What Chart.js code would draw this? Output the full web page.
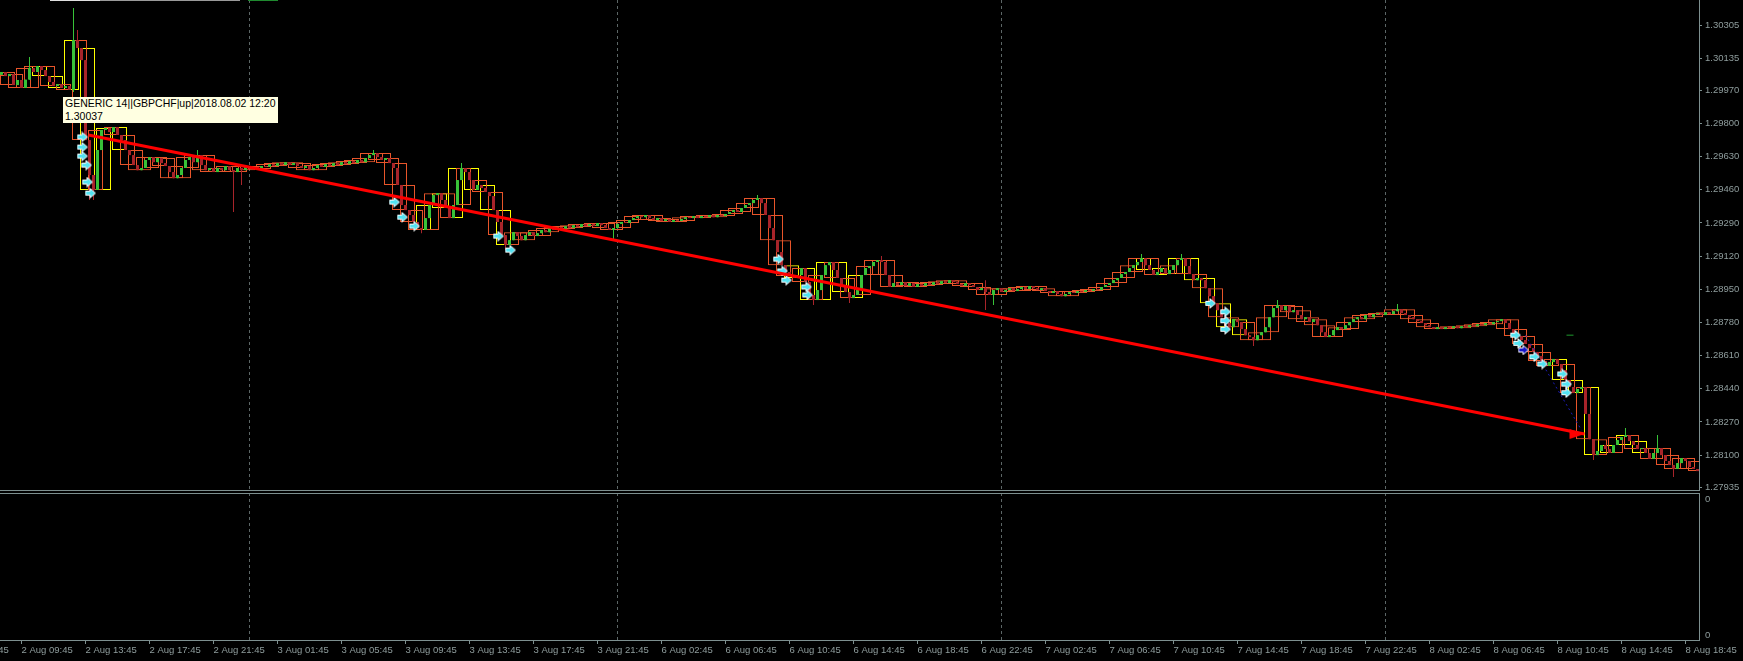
<!DOCTYPE html>
<html><head><meta charset="utf-8">
<script src="https://cdn.jsdelivr.net/npm/chart.js@4.4.1/dist/chart.umd.min.js"></script>
<style>
html,body{margin:0;padding:0;background:#000;width:1743px;height:661px;overflow:hidden;}
#main{position:absolute;left:0;top:0;width:1743px;height:492px;}
#sub{position:absolute;left:0;top:491px;width:1743px;height:170px;}
#tip{position:absolute;left:63px;top:97px;width:215px;height:26px;background:#ffffe1;color:#000;font:10.5px 'Liberation Sans',Arial,sans-serif;line-height:13px;padding:0 0 0 2px;box-sizing:border-box;white-space:nowrap;}
.strip{position:absolute;top:0;height:1px;}
</style></head><body>
<canvas id="main" width="1743" height="492"></canvas>
<canvas id="sub" width="1743" height="170"></canvas>
<div class="strip" style="left:50px;width:50px;background:#e0e0e0"></div>
<div class="strip" style="left:100px;width:140px;background:#9a9a9a"></div>
<div class="strip" style="left:248px;width:30px;background:#1f8a2f"></div>
<div id="tip">GENERIC 14||GBPCHF|up|2018.08.02 12:20<br>1.30037</div>
<script>
// ---------------- data (GBPCHF, M15) ----------------
const firstOpen = 1.30050;
const closes = [
1.30064,1.30043,1.30054,1.29997,1.30023,1.29982,1.30025,1.30084,1.30064,1.30095,
1.30074,1.30043,1.30013,1.29992,1.30002,1.29982,1.29992,1.29972,1.30228,1.30187,
1.30125,1.29715,1.29536,1.29459,1.29664,1.29767,1.29777,1.29756,1.29782,1.29741,
1.29715,1.29664,1.29638,1.29587,1.29561,1.29572,1.29613,1.29628,1.29602,1.29623,
1.29597,1.29582,1.29551,1.29520,1.29536,1.29572,1.29613,1.29628,1.29602,1.29638,
1.29587,1.29561,1.29572,1.29551,1.29572,1.29561,1.29582,1.29561,1.29551,1.29572,
1.29561,1.29582,1.29572,1.29577,1.29567,1.29582,1.29577,1.29592,1.29582,1.29597,
1.29587,1.29602,1.29587,1.29597,1.29582,1.29572,1.29582,1.29561,1.29572,1.29587,
1.29577,1.29592,1.29582,1.29597,1.29587,1.29602,1.29592,1.29608,1.29597,1.29613,
1.29602,1.29623,1.29638,1.29649,1.29628,1.29613,1.29623,1.29597,1.29572,1.29485,
1.29382,1.29356,1.29331,1.29295,1.29264,1.29254,1.29315,1.29382,1.29433,1.29443,
1.29408,1.29367,1.29315,1.29382,1.29510,1.29572,1.29551,1.29510,1.29459,1.29485,
1.29469,1.29449,1.29428,1.29356,1.29295,1.29228,1.29177,1.29202,1.29243,1.29223,
1.29202,1.29228,1.29243,1.29223,1.29238,1.29254,1.29243,1.29264,1.29254,1.29269,
1.29259,1.29274,1.29264,1.29279,1.29269,1.29285,1.29274,1.29285,1.29274,1.29290,
1.29279,1.29264,1.29254,1.29264,1.29285,1.29295,1.29290,1.29305,1.29315,1.29326,
1.29320,1.29331,1.29315,1.29305,1.29315,1.29300,1.29310,1.29295,1.29305,1.29300,
1.29310,1.29320,1.29315,1.29326,1.29315,1.29326,1.29320,1.29331,1.29320,1.29331,
1.29326,1.29336,1.29346,1.29356,1.29346,1.29367,1.29382,1.29392,1.29408,1.29418,
1.29392,1.29331,1.29264,1.29202,1.29141,1.29074,1.29039,1.29018,1.29008,1.29023,
1.29059,1.28987,1.28921,1.28895,1.28946,1.29023,1.29074,1.29090,1.29049,1.29008,
1.28972,1.28936,1.28905,1.28921,1.28946,1.29023,1.29059,1.29069,1.29090,1.29100,
1.29090,1.29023,1.28962,1.28982,1.28972,1.28987,1.28967,1.28982,1.28962,1.28977,
1.28967,1.28982,1.28972,1.28987,1.28977,1.28992,1.28982,1.28997,1.28987,1.28977,
1.28967,1.28982,1.28972,1.28962,1.28946,1.28956,1.28936,1.28921,1.28946,1.28956,
1.28936,1.28946,1.28956,1.28941,1.28951,1.28962,1.28951,1.28967,1.28956,1.28946,
1.28956,1.28941,1.28931,1.28941,1.28926,1.28915,1.28926,1.28936,1.28931,1.28941,
1.28936,1.28946,1.28941,1.28951,1.28946,1.28962,1.28972,1.28982,1.28997,1.29008,
1.29028,1.29039,1.29059,1.29074,1.29090,1.29110,1.29074,1.29049,1.29023,1.29039,
1.29059,1.29028,1.29049,1.29074,1.29100,1.29110,1.29069,1.29028,1.28997,1.29008,
1.28997,1.28956,1.28915,1.28879,1.28843,1.28807,1.28777,1.28756,1.28797,1.28782,
1.28746,1.28715,1.28705,1.28689,1.28715,1.28730,1.28756,1.28807,1.28854,1.28869,
1.28843,1.28864,1.28833,1.28843,1.28818,1.28797,1.28807,1.28782,1.28797,1.28766,
1.28730,1.28705,1.28715,1.28741,1.28756,1.28746,1.28766,1.28782,1.28797,1.28807,
1.28797,1.28818,1.28807,1.28823,1.28828,1.28818,1.28833,1.28823,1.28838,1.28848,
1.28828,1.28818,1.28807,1.28797,1.28787,1.28777,1.28766,1.28756,1.28746,1.28756,
1.28746,1.28756,1.28751,1.28761,1.28751,1.28761,1.28756,1.28766,1.28761,1.28771,
1.28766,1.28777,1.28771,1.28782,1.28787,1.28797,1.28777,1.28746,1.28720,1.28711,
1.28690,1.28670,1.28649,1.28629,1.28608,1.28583,1.28557,1.28577,1.28593,1.28567,
1.28536,1.28485,1.28449,1.28418,1.28439,1.28449,1.28311,1.28182,1.28100,1.28121,
1.28152,1.28131,1.28111,1.28152,1.28177,1.28193,1.28203,1.28172,1.28152,1.28131,
1.28136,1.28111,1.28080,1.28111,1.28136,1.28100,1.28070,1.28049,1.28029,1.28059,
1.28085,1.28070,1.28039,1.28029,1.28018
];
// bars with visible wicks beyond their bodies
const wickBars  = [7,18,19,22,23,49,58,60,93,105,115,126,153,189,203,212,220,246,248,285,295,313,319,349,398,406,414,418];
const wickHighs = [1.30141,1.30392,1.30279,null,null,1.29664,null,null,1.29664,null,1.29597,null,null,1.29433,null,null,1.29121,1.28997,null,1.29131,1.29131,null,1.28895,1.28875,null,1.28239,1.28203,null];
const wickLows  = [null,1.29961,null,1.29408,1.29408,null,1.29346,1.29485,null,1.29238,null,1.29151,1.29202,null,1.28869,1.28880,null,1.28844,1.28869,null,null,1.28660,null,null,1.28075,null,null,1.27988];
// indicator zones drawn in yellow (bar index ranges)
const yellowZones = [[8,30],[104,127],[194,216],[284,313],[388,412]];
// signal arrows (bar index, price)
const arrowIdx   = [20.25,20.25,20.25,21.25,21.5,22.25,98.25,100.25,103.25,124.25,127.25,194.25,195.25,196.25,201.25,201.5,302.25,306,306,306,378.5,379.25,383.25,385.25,390.25,391.25,391.25];
const arrowPrice = [1.29731,1.29679,1.29633,1.29587,1.29500,1.29443,1.29397,1.29320,1.29274,1.29223,1.29151,1.29105,1.29044,1.28997,1.28962,1.28921,1.28878,1.28835,1.28789,1.28745,1.28715,1.28673,1.28604,1.28567,1.28516,1.28464,1.28420];
const blueArrowIdx = [380.5];
const blueArrowPrice = [1.28639];
// trend arrow object
const trendIdx = [21.75, 395.75];
const trendPrice = [1.29741, 1.28208];
// dotted blue line and small green dash
const dotIdx = [381, 395];
const dotPrice = [1.28715, 1.28228];
const dashIdx = [391.25, 393];
const dashPrice = [1.28715, 1.28715];
// axis ticks
const priceTicks = [1.30305,1.30135,1.29970,1.29800,1.29630,1.29460,1.29290,1.29120,1.28950,1.28780,1.28610,1.28440,1.28270,1.28100,1.27935];
const timeTickIdx = [-11,5,21,37,53,69,85,101,117,133,149,165,181,197,213,229,245,261,277,293,309,325,341,357,373,389,405,421];
const timeTickLabels = ["2 Aug 05:45","2 Aug 09:45","2 Aug 13:45","2 Aug 17:45","2 Aug 21:45","3 Aug 01:45","3 Aug 05:45","3 Aug 09:45","3 Aug 13:45","3 Aug 17:45","3 Aug 21:45","6 Aug 02:45","6 Aug 06:45","6 Aug 10:45","6 Aug 14:45","6 Aug 18:45","6 Aug 22:45","7 Aug 02:45","7 Aug 06:45","7 Aug 10:45","7 Aug 14:45","7 Aug 18:45","7 Aug 22:45","8 Aug 02:45","8 Aug 06:45","8 Aug 10:45","8 Aug 14:45","8 Aug 18:45"];
const daySepIdx = [62, 154, 250, 346];

// ---------------- styling ----------------
const TXT = '#8f9d9d', LINE = '#7d8f8f', GRID = '#5c6666';
const GREEN = '#38c238', RED = '#a8242a', ORANGE = '#e8552a', YELLOW = '#ffff00';
const XMIN = -0.375, XMAX = 424.375;
const YMAX = 1.304332, YMIN = 1.279212;
Chart.defaults.font.family = "'Liberation Sans', Arial, sans-serif";
Chart.defaults.font.size = 9.5;

// ---------------- derived tables ----------------
const N = closes.length;
const opens = closes.map((c, i) => i === 0 ? firstOpen : closes[i - 1]);
const highs = closes.map((c, i) => { const k = wickBars.indexOf(i); const h = Math.max(opens[i], c); return (k >= 0 && wickHighs[k] != null) ? Math.max(h, wickHighs[k]) : h; });
const lows = closes.map((c, i) => { const k = wickBars.indexOf(i); const l = Math.min(opens[i], c); return (k >= 0 && wickLows[k] != null) ? Math.min(l, wickLows[k]) : l; });
const candleColor = closes.map((c, i) => c >= opens[i] ? GREEN : RED);
const bodyData = closes.map((c, i) => ({x: i, y: [opens[i], c]}));
const wickData = closes.map((c, i) => ({x: i, y: [lows[i], highs[i]]}));
function inYellow(i){ return yellowZones.some(z => i >= z[0] && i <= z[1]); }
function boxes(start){
  const out = [];
  for (let s = start; s < N; s += 4) {
    const a = Math.max(0, s), b = Math.min(N - 1, s + 3);
    let lo = Infinity, hi = -Infinity;
    for (let i = a; i <= b; i++) { lo = Math.min(lo, opens[i], closes[i]); hi = Math.max(hi, opens[i], closes[i]); }
    out.push({x: s + 1.5, y: [lo, hi], mid: s + 1.5});
  }
  return out;
}
const boxA = boxes(-2), boxB = boxes(0);
const boxBColors = boxB.map(b => inYellow(b.mid) ? YELLOW : ORANGE);

function makeArrow(fill){
  const c = document.createElement('canvas'); c.width = 12; c.height = 11;
  const g = c.getContext('2d');
  g.beginPath(); g.moveTo(1,3.5); g.lineTo(5.5,3.5); g.lineTo(5.5,0.8); g.lineTo(11,5.5); g.lineTo(5.5,10.2); g.lineTo(5.5,7.5); g.lineTo(1,7.5); g.closePath();
  g.fillStyle = fill; g.fill(); g.strokeStyle = '#ffffff'; g.lineWidth = 1; g.stroke();
  return c;
}
let headImg = null;
function headStyle(ctx){
  if (headImg) return headImg;
  const ch = ctx.chart, sx = ch.scales.x, sy = ch.scales.y;
  const ang = Math.atan2(sy.getPixelForValue(trendPrice[1]) - sy.getPixelForValue(trendPrice[0]),
                         sx.getPixelForValue(trendIdx[1]) - sx.getPixelForValue(trendIdx[0]));
  const c = document.createElement('canvas'); c.width = 36; c.height = 36;
  const g = c.getContext('2d'); g.translate(18,18); g.rotate(ang);
  g.beginPath(); g.moveTo(0,0); g.lineTo(-15,-5); g.lineTo(-15,5); g.closePath();
  g.fillStyle = '#ff0000'; g.fill();
  headImg = c;
  return c;
}
const hiddenX = () => ({type:'linear', min:XMIN, max:XMAX, display:false, offset:false, grid:{offset:false}});

new Chart(document.getElementById('main'), {
  type: 'bar',
  data: { datasets: [
    {type:'line', data: trendIdx.map((x,i)=>({x, y: trendPrice[i]})), borderColor:'#ff0000', borderWidth:3, pointRadius:0, order:0, xAxisID:'x'},
    {type:'line', data: [{x: trendIdx[1], y: trendPrice[1]}], showLine:false, pointRadius:5, pointStyle: headStyle, pointBorderWidth:0, order:0, xAxisID:'x'},
    {type:'line', data: arrowIdx.map((x,i)=>({x, y: arrowPrice[i]})), showLine:false, pointRadius:5, pointStyle: makeArrow('#52e3f2'), order:1, xAxisID:'x'},
    {type:'line', data: blueArrowIdx.map((x,i)=>({x, y: blueArrowPrice[i]})), showLine:false, pointRadius:5, pointStyle: makeArrow('#1515c8'), order:1, xAxisID:'x'},
    {type:'line', data: dotIdx.map((x,i)=>({x, y: dotPrice[i]})), borderColor:'#1c1cb8', borderWidth:1, borderDash:[2,3], pointRadius:0, order:2, xAxisID:'x'},
    {type:'line', data: dashIdx.map((x,i)=>({x, y: dashPrice[i]})), borderColor:'#1e9a2e', borderWidth:1, pointRadius:0, order:2, xAxisID:'x'},
    {data: bodyData, backgroundColor: candleColor, borderWidth:0, grouped:false, categoryPercentage:1, barPercentage:0.75, minBarLength:1, inflateAmount:0, order:3, xAxisID:'x'},
    {data: wickData, backgroundColor: candleColor, borderWidth:0, grouped:false, categoryPercentage:1, barPercentage:0.25, minBarLength:1, inflateAmount:0, order:4, xAxisID:'x'},
    {data: boxA, backgroundColor:'rgba(0,0,0,0)', borderColor: ORANGE, borderWidth:1, borderSkipped:false, grouped:false, categoryPercentage:1, barPercentage:15/16, minBarLength:1, inflateAmount:0, order:5, xAxisID:'xb'},
    {data: boxB, backgroundColor:'rgba(0,0,0,0)', borderColor: boxBColors, borderWidth:1, borderSkipped:false, grouped:false, categoryPercentage:1, barPercentage:15/16, minBarLength:1, inflateAmount:0, order:6, xAxisID:'xc'}
  ]},
  options: {
    animation:false, responsive:false, events:[],
    layout:{autoPadding:false, padding:{left:0, right:0, top:0, bottom:2}},
    plugins:{legend:{display:false}, tooltip:{enabled:false}},
    scales: {
      x: hiddenX(), xb: hiddenX(), xc: hiddenX(),
      xd: {type:'linear', min:XMIN, max:XMAX, position:'bottom', offset:false,
           grid:{color:GRID, drawTicks:false, offset:false}, border:{display:true, color:LINE, dash:[3,3]},
           ticks:{display:false},
           afterBuildTicks: s => { s.ticks = daySepIdx.map(v => ({value:v})); },
           afterFit: s => { s.height = 0; s.paddingLeft = 0; s.paddingRight = 0; }},
      y: {type:'linear', position:'right', min:YMIN, max:YMAX, beginAtZero:false,
          grid:{drawOnChartArea:false, drawTicks:true, tickLength:3, color:LINE},
          border:{display:true, color:LINE},
          ticks:{color:TXT, padding:3, autoSkip:false, callback: v => v.toFixed(5)},
          afterBuildTicks: s => { s.ticks = priceTicks.map(v => ({value:v})); },
          afterFit: s => { s.width = 44; s.paddingTop = 0; s.paddingBottom = 0; }}
    }
  }
});

new Chart(document.getElementById('sub'), {
  type: 'line',
  data: { datasets: [] },
  options: {
    animation:false, responsive:false, events:[],
    layout:{autoPadding:false, padding:{left:0, right:0, top:2, bottom:0}},
    plugins:{legend:{display:false}, tooltip:{enabled:false}},
    scales: {
      x: {type:'linear', min:XMIN, max:XMAX, position:'bottom', offset:false,
          grid:{drawOnChartArea:false, drawTicks:true, tickLength:4, color:LINE},
          border:{display:true, color:LINE},
          ticks:{color:TXT, align:'start', padding:1, autoSkip:false, maxRotation:0, minRotation:0,
                 callback: (v, i) => timeTickLabels[i]},
          afterBuildTicks: s => { s.ticks = timeTickIdx.map(v => ({value:v})); },
          afterFit: s => { s.height = 21; s.paddingLeft = 0; s.paddingRight = 0; }},
      xd: {type:'linear', min:XMIN, max:XMAX, position:'bottom', offset:false,
           grid:{color:GRID, drawTicks:false}, border:{display:false, dash:[3,3]},
           ticks:{display:false},
           afterBuildTicks: s => { s.ticks = daySepIdx.map(v => ({value:v})); },
           afterFit: s => { s.height = 0; s.paddingLeft = 0; s.paddingRight = 0; }},
      xt: {type:'linear', min:XMIN, max:XMAX, position:'top', offset:false,
           grid:{display:false}, border:{display:true, color:LINE}, ticks:{display:false},
           afterFit: s => { s.height = 0; s.paddingLeft = 0; s.paddingRight = 0; }},
      y: {type:'linear', position:'right', min:0, max:1,
          grid:{drawOnChartArea:false, drawTicks:true, tickLength:3, color:'rgba(0,0,0,0)'},
          border:{display:true, color:LINE},
          ticks:{color:TXT, padding:3, autoSkip:false, callback: () => '0'},
          afterBuildTicks: s => { s.ticks = [{value:0.034}, {value:0.959}]; },
          afterFit: s => { s.width = 44; s.paddingTop = 0; s.paddingBottom = 0; }}
    }
  }
});
</script>
</body></html>
